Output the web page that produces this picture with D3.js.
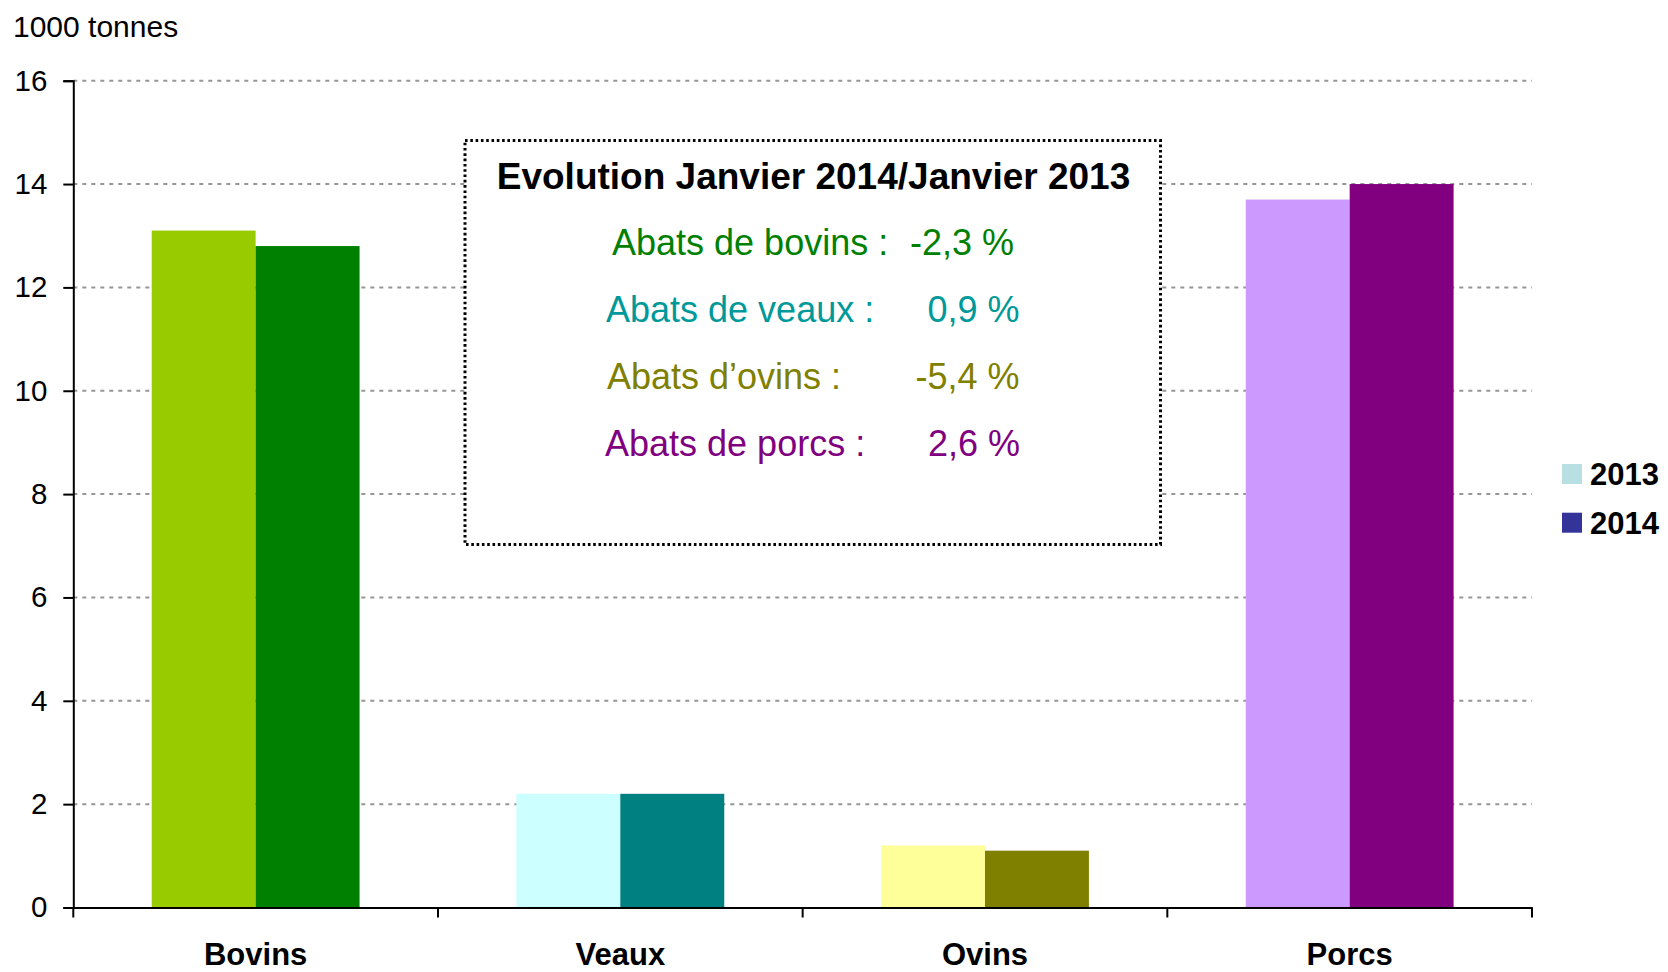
<!DOCTYPE html>
<html>
<head>
<meta charset="utf-8">
<script src="https://cdn.jsdelivr.net/npm/d3@7"></script>
<style>
  body { margin: 0; background: #fff; }
  svg { display: block; font-family: "Liberation Sans", Arial, sans-serif; }
</style>
</head>
<body>
<div class="my_div"></div>
<script>
// Data
var categories = ["Bovins", "Veaux", "Ovins", "Porcs"];
var years = ["2013", "2014"];
var values2013 = [13.1, 2.2, 1.2, 13.7];
var values2014 = [12.8, 2.2, 1.1, 14.0];
var yTicks = [0, 2, 4, 6, 8, 10, 12, 14, 16];
var unitLabel = "1000 tonnes";
var boxTitle = "Evolution Janvier 2014/Janvier 2013";
var evoLabels = ["Abats de bovins :", "Abats de veaux :", "Abats d\u2019ovins :", "Abats de porcs :"];
var evoValues = ["-2,3 %", "0,9 %", "-5,4 %", "2,6 %"];

// Colours (one per category, per year)
var colors2013 = ["#99cc00", "#ccffff", "#ffff99", "#cc99ff"];
var colors2014 = ["#008000", "#008080", "#808000", "#800080"];
var legendColors = ["#b8e0e2", "#333399"];
var evoColors = ["#008000", "#009999", "#808000", "#800080"];

var width = 1668,
    height = 972;

var svg = d3.select(".my_div")
    .append("svg")
    .attr("width", width)
    .attr("height", height)

// Scales
var yScale = d3.scaleLinear()
    .domain([0, 16])
    .range([907.5, 80.7]);

var x0 = d3.scaleBand()
    .domain(categories)
    .range([73.3, 1532])
    .padding(0);

var bw = x0.bandwidth();
var x1 = d3.scaleBand()
    .domain(years)
    .range([bw * 0.215, bw * 0.785]);

// Gridlines
svg.append("g")
    .selectAll("line")
    .data(yTicks.filter((d) => d > 0))
    .enter()
    .append("line")
    .attr("x1", 73.3)
    .attr("x2", 1532)
    .attr("y1", (d) => yScale(d))
    .attr("y2", (d) => yScale(d))
    .attr("stroke", "#969696")
    .attr("stroke-width", 2)
    .attr("stroke-dasharray", "4,5")

// Bars
var rows = categories.map((c, i) => {
    return [
        { cat: c, year: "2013", value: values2013[i], color: colors2013[i] },
        { cat: c, year: "2014", value: values2014[i], color: colors2014[i] }
    ]
})

svg.append("g")
    .selectAll("g")
    .data(rows)
    .enter()
    .append("g")
    .attr("transform", (d) => "translate(" + x0(d[0].cat) + ",0)")
    .selectAll("rect")
    .data((d) => d)
    .enter()
    .append("rect")
    .attr("x", (d) => x1(d.year))
    .attr("width", x1.bandwidth())
    .attr("y", (d) => yScale(d.value))
    .attr("height", (d) => yScale(0) - yScale(d.value))
    .attr("fill", (d) => d.color)

// Y axis
var yAxis = svg.append("g")
    .attr("transform", "translate(73.3,0)")
    .call(d3.axisLeft(yScale).tickValues(yTicks).tickSize(10).tickSizeOuter(10).tickPadding(16))

yAxis.select(".domain").attr("stroke", "#000").attr("stroke-width", 2)
yAxis.selectAll(".tick line").attr("stroke", "#000").attr("stroke-width", 2)
yAxis.selectAll(".tick text")
    .attr("font-family", "Liberation Sans, Arial, sans-serif")
    .attr("font-size", 29.5)
    .attr("fill", "#000")

// X axis: line, ticks at category boundaries, bold labels at centers
var xAxis = svg.append("g")
    .attr("transform", "translate(0," + yScale(0) + ")")
    .call(d3.axisBottom(x0).tickSize(0).tickSizeOuter(0))

xAxis.select(".domain").attr("stroke", "#000").attr("stroke-width", 2)
xAxis.selectAll(".tick text")
    .attr("y", 57)
    .attr("dy", null)
    .attr("font-family", "Liberation Sans, Arial, sans-serif")
    .attr("font-size", 31)
    .attr("font-weight", "bold")
    .attr("fill", "#000")

var bounds = categories.map((c) => x0(c)).concat([x0.range()[1]]);
xAxis.selectAll(".bound")
    .data(bounds)
    .enter()
    .append("line")
    .attr("class", "bound")
    .attr("x1", (d) => d)
    .attr("x2", (d) => d)
    .attr("y1", 0)
    .attr("y2", 10)
    .attr("stroke", "#000")
    .attr("stroke-width", 2)

// Unit label
svg.append("text")
    .text(unitLabel)
    .attr("x", 13)
    .attr("y", 36.5)
    .attr("font-size", 30)
    .attr("fill", "#000")

// Legend
var legend = svg.append("g")
    .selectAll("g")
    .data(years)
    .enter()
    .append("g")
    .attr("transform", (d, i) => "translate(1562," + (464 + i * 48.7) + ")")

legend.append("rect")
    .attr("width", 20)
    .attr("height", 20)
    .attr("fill", (d, i) => legendColors[i])

legend.append("text")
    .text((d) => d)
    .attr("x", 28)
    .attr("y", 21)
    .attr("font-size", 31)
    .attr("font-weight", "bold")
    .attr("fill", "#000")

// Evolution box
var box = svg.append("g")

box.append("rect")
    .attr("x", 465)
    .attr("y", 140.5)
    .attr("width", 695.5)
    .attr("height", 404)
    .attr("fill", "#fff")
    .attr("stroke", "#000")
    .attr("stroke-width", 3)
    .attr("stroke-dasharray", "2.6,2.7")

box.append("text")
    .text(boxTitle)
    .attr("x", 813.5)
    .attr("y", 189.3)
    .attr("text-anchor", "middle")
    .attr("font-size", 37)
    .attr("font-weight", "bold")
    .attr("fill", "#000")

var labelX = [612, 606, 607, 605];
var valueEnd = [1014, 1019.5, 1019.5, 1020];

var evo = box.selectAll(".evo")
    .data(evoLabels)
    .enter()
    .append("g")
    .attr("class", "evo")
    .attr("transform", (d, i) => "translate(0," + (255.3 + i * 66.8) + ")")

evo.append("text")
    .text((d) => d)
    .attr("x", (d, i) => labelX[i])
    .attr("font-size", 36)
    .attr("fill", (d, i) => evoColors[i])

evo.append("text")
    .text((d, i) => evoValues[i])
    .attr("x", (d, i) => valueEnd[i])
    .attr("text-anchor", "end")
    .attr("font-size", 36)
    .attr("fill", (d, i) => evoColors[i])
</script>
</body>
</html>
